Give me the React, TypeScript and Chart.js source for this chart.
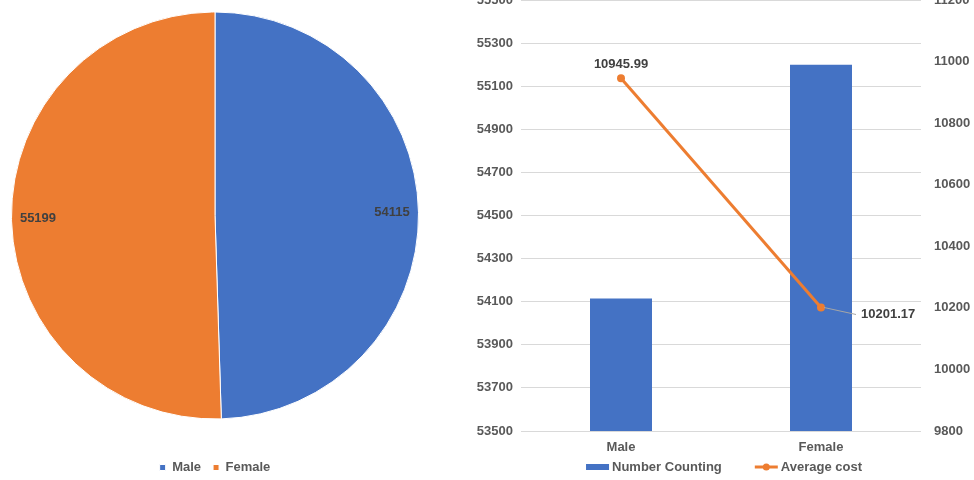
import React, { useEffect, useRef } from 'react';
import { Chart, registerables } from 'chart.js';

Chart.register(...registerables);

// ---- data ----
const pieLabels = ['Male', 'Female'];
const pieValues = [54115, 55199];

const barCategories = ['Male', 'Female'];
const countValues = [54115, 55199];
const avgCostValues = [10945.99, 10201.17];

const countAxis = [53500, 55500, 200]; // min, max, step
const costAxis = [9800, 11200, 200]; // min, max, step

const seriesNames = ['Number Counting', 'Average cost'];

// ---- styles ----
const BLUE = '#4472C4';
const ORANGE = '#ED7D31';
const AXIS_TEXT = '#595959';
const LABEL_TEXT = '#404040';
const GRID = '#D9D9D9';
const FONT = '"Liberation Sans", Arial, sans-serif';
const lineLabelPlacement = ['above', 'right'];
const legendSymbols = ['rect', 'lineDot'];

const pieLabelPlugin = {
  id: 'pieValueLabels',
  afterDatasetsDraw(chart: any) {
    const ctx = chart.ctx;
    const meta = chart.getDatasetMeta(0);
    ctx.save();
    ctx.font = `bold 13px ${FONT}`;
    ctx.fillStyle = LABEL_TEXT;
    ctx.textAlign = 'center';
    ctx.textBaseline = 'middle';
    meta.data.forEach((arc: any, i: number) => {
      const p = arc.getProps(['x', 'y', 'startAngle', 'endAngle', 'outerRadius'], true);
      const mid = (p.startAngle + p.endAngle) / 2;
      const r = p.outerRadius * 0.87;
      ctx.fillText(String(chart.data.datasets[0].data[i]), p.x + Math.cos(mid) * r, p.y + Math.sin(mid) * r);
    });
    ctx.restore();
  },
};

const lineLabelPlugin = {
  id: 'lineValueLabels',
  afterDatasetsDraw(chart: any) {
    const ctx = chart.ctx;
    const meta = chart.getDatasetMeta(1);
    ctx.save();
    ctx.font = `bold 13px ${FONT}`;
    ctx.fillStyle = LABEL_TEXT;
    ctx.textBaseline = 'middle';
    meta.data.forEach((pt: any, i: number) => {
      const text = avgCostValues[i].toFixed(2);
      if (lineLabelPlacement[i] === 'above') {
        ctx.textAlign = 'center';
        ctx.fillText(text, pt.x, pt.y - 14);
      } else {
        ctx.strokeStyle = '#A6A6A6';
        ctx.lineWidth = 1;
        ctx.beginPath();
        ctx.moveTo(pt.x + 3, pt.y);
        ctx.lineTo(pt.x + 35, pt.y + 7);
        ctx.stroke();
        ctx.textAlign = 'left';
        ctx.fillText(text, pt.x + 40, pt.y + 7);
      }
    });
    ctx.restore();
  },
};

const barLegendPlugin = {
  id: 'barLegend',
  afterDraw(chart: any) {
    const ctx = chart.ctx;
    const ca = chart.chartArea;
    ctx.save();
    ctx.font = `bold 13px ${FONT}`;
    const symW = 23;
    const gapSym = 3;
    const gapItem = 33;
    const widths = seriesNames.map((t) => symW + gapSym + ctx.measureText(t).width);
    const total = widths.reduce((a, b) => a + b, 0) + gapItem * (widths.length - 1);
    let x = (ca.left + ca.right) / 2 - total / 2 + 3;
    const y = ca.bottom + 36;
    seriesNames.forEach((t, i) => {
      const color = chart.data.datasets[i].backgroundColor;
      if (legendSymbols[i] === 'rect') {
        ctx.fillStyle = color;
        ctx.fillRect(x, y - 3, symW, 6);
      } else {
        ctx.strokeStyle = color;
        ctx.lineWidth = 3;
        ctx.beginPath();
        ctx.moveTo(x, y);
        ctx.lineTo(x + symW, y);
        ctx.stroke();
        ctx.fillStyle = color;
        ctx.beginPath();
        ctx.arc(x + symW / 2, y, 3.5, 0, Math.PI * 2);
        ctx.fill();
      }
      ctx.fillStyle = AXIS_TEXT;
      ctx.textAlign = 'left';
      ctx.textBaseline = 'middle';
      ctx.fillText(t, x + symW + gapSym, y);
      x += widths[i] + gapItem;
    });
    ctx.restore();
  },
};

const tickFont = { family: FONT, size: 13, weight: 'bold' as const };

export default function App() {
  const pieRef = useRef<HTMLCanvasElement>(null);
  const barRef = useRef<HTMLCanvasElement>(null);

  useEffect(() => {
    Chart.defaults.font.family = FONT;
    Chart.defaults.font.size = 13;

    const pie = new Chart(pieRef.current as HTMLCanvasElement, {
      type: 'pie',
      data: {
        labels: pieLabels,
        datasets: [
          {
            data: pieValues,
            backgroundColor: [BLUE, ORANGE],
            borderColor: '#ffffff',
            borderWidth: 1,
          },
        ],
      },
      options: {
        responsive: false,
        animation: false,
        devicePixelRatio: 1,
        layout: { padding: { left: 11, right: 11, top: 0, bottom: 0 } },
        plugins: {
          tooltip: { enabled: false },
          legend: {
            position: 'bottom',
            labels: {
              boxWidth: 6,
              boxHeight: 6,
              padding: 12,
              color: AXIS_TEXT,
              font: tickFont,
            },
          },
        },
      },
      plugins: [pieLabelPlugin],
    } as any);

    const bar = new Chart(barRef.current as HTMLCanvasElement, {
      type: 'bar',
      data: {
        labels: barCategories,
        datasets: [
          {
            type: 'bar',
            label: seriesNames[0],
            data: countValues,
            backgroundColor: BLUE,
            borderWidth: 0,
            barPercentage: 0.31,
            categoryPercentage: 1,
            yAxisID: 'y',
            order: 1,
          },
          {
            type: 'line',
            label: seriesNames[1],
            data: avgCostValues,
            borderColor: ORANGE,
            backgroundColor: ORANGE,
            borderWidth: 3,
            pointRadius: 4,
            pointBorderWidth: 0,
            pointBackgroundColor: ORANGE,
            yAxisID: 'y1',
            order: 0,
          },
        ],
      },
      options: {
        responsive: false,
        animation: false,
        devicePixelRatio: 1,
        layout: { padding: 0, autoPadding: false },
        scales: {
          x: {
            grid: { display: false, drawTicks: false },
            border: { display: false },
            ticks: { color: AXIS_TEXT, font: tickFont, padding: 9 },
            afterFit: (s: any) => {
              s.height = 49;
              s.paddingLeft = 0;
              s.paddingRight = 0;
            },
          },
          y: {
            type: 'linear',
            position: 'left',
            min: countAxis[0],
            max: countAxis[1],
            grid: { color: GRID, drawTicks: false },
            border: { display: false },
            ticks: {
              stepSize: countAxis[2],
              padding: 8,
              color: AXIS_TEXT,
              font: tickFont,
              callback: (v: any) => String(v),
            },
            afterFit: (s: any) => {
              s.width = 81;
              s.paddingTop = 0;
              s.paddingBottom = 0;
            },
          },
          y1: {
            type: 'linear',
            position: 'right',
            min: costAxis[0],
            max: costAxis[1],
            grid: { display: false, drawTicks: false },
            border: { display: false },
            ticks: {
              stepSize: costAxis[2],
              padding: 13,
              color: AXIS_TEXT,
              font: tickFont,
              callback: (v: any) => String(v),
            },
            afterFit: (s: any) => {
              s.width = 53;
              s.paddingTop = 0;
              s.paddingBottom = 0;
            },
          },
        },
        plugins: {
          tooltip: { enabled: false },
          legend: { display: false },
        },
      },
      plugins: [lineLabelPlugin, barLegendPlugin],
    } as any);

    return () => {
      pie.destroy();
      bar.destroy();
    };
  }, []);

  return (
    <div
      style={{
        position: 'fixed',
        left: 0,
        top: 0,
        width: 974,
        height: 480,
        overflow: 'hidden',
        background: '#ffffff',
      }}
    >
      <canvas
        ref={pieRef}
        width={430}
        height={502}
        style={{ position: 'absolute', left: 0, top: -18, width: 430, height: 502 }}
      />
      <canvas
        ref={barRef}
        width={534}
        height={480}
        style={{ position: 'absolute', left: 440, top: 0, width: 534, height: 480 }}
      />
    </div>
  );
}
